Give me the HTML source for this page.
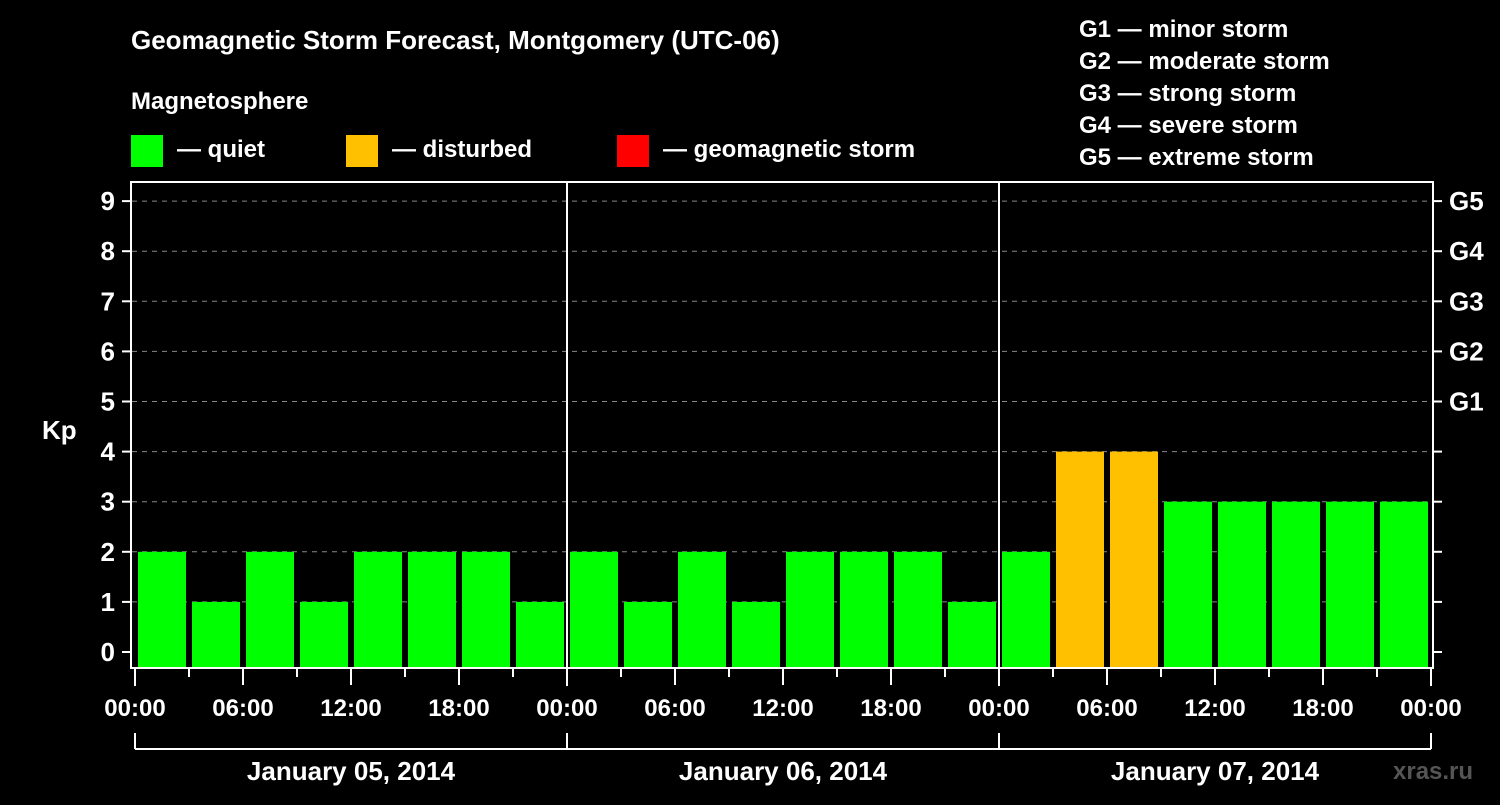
<!DOCTYPE html>
<html><head><meta charset="utf-8"><style>
body{margin:0;background:#000;width:1500px;height:800px;overflow:hidden}
svg text{font-family:"Liberation Sans",Arial,sans-serif;font-weight:bold;fill:#fff}
</style></head><body>
<svg id="c" width="1500" height="800" xmlns="http://www.w3.org/2000/svg">
<rect width="1500" height="800" fill="#000"/>
<text x="131" y="49" font-size="26">Geomagnetic Storm Forecast, Montgomery (UTC-06)</text>
<text x="131" y="109" font-size="24">Magnetosphere</text>
<g><rect x="131" y="135" width="32" height="32" fill="#00ff00"/><text x="177" y="157" font-size="24">— quiet</text></g>
<g><rect x="346" y="135" width="32" height="32" fill="#ffc000"/><text x="392" y="157" font-size="24">— disturbed</text></g>
<g><rect x="617" y="135" width="32" height="32" fill="#ff0000"/><text x="663" y="157" font-size="24">— geomagnetic storm</text></g>
<g font-size="24">
<text x="1079" y="37">G1 — minor storm</text>
<text x="1079" y="69">G2 — moderate storm</text>
<text x="1079" y="101">G3 — strong storm</text>
<text x="1079" y="133">G4 — severe storm</text>
<text x="1079" y="165">G5 — extreme storm</text>
</g>
<text x="42" y="439" font-size="26">Kp</text>
<text x="1393" y="779" font-size="24" fill="#555" style="fill:#555">xras.ru</text>
<g id="plot"></g>
</svg>
<script>
const kpValues=[2,1,2,1,2,2,2,1, 2,1,2,1,2,2,2,1, 2,4,4,3,3,3,3,3];
const dayLabels=["January 05, 2014","January 06, 2014","January 07, 2014"];
const hourLabels=["00:00","06:00","12:00","18:00"];
const gLabels=["G1","G2","G3","G4","G5"];
const NS="http://www.w3.org/2000/svg";
const p=document.getElementById('plot');
const x0=135,dayW=432,slot=54;
const y=v=>652-v*50.1;
const X=h=>x0+h*(dayW/24);
function el(t,a){const e=document.createElementNS(NS,t);for(const k in a)e.setAttribute(k,a[k]);p.appendChild(e);return e;}
for(let v=0;v<=9;v++){
 if(v>0&&v<=9){const l=el('line',{x1:132,x2:1432,y1:y(v),y2:y(v),stroke:'#888','stroke-dasharray':'5,5'});
 }
 const t=el('line',{x1:122,x2:131,y1:y(v),y2:y(v),stroke:'#fff','stroke-width':2});
 const t2=el('line',{x1:1433,x2:1442,y1:y(v),y2:y(v),stroke:'#fff','stroke-width':2});
 const tx=el('text',{x:115,y:y(v)+9,'font-size':26,'text-anchor':'end'});tx.textContent=v;
 
}
gLabels.forEach((g,i)=>{const t=el('text',{x:1449,y:y(5+i)+9,'font-size':26});t.textContent=g;
 });
kpValues.forEach((v,i)=>{
 const c=v>=5?'#ff0000':(v>=4?'#ffc000':'#00ff00');
 const r=el('rect',{x:X(i*3)+3,y:y(v),width:48,height:668-y(v),fill:c});
 
});
el('rect',{x:131,y:182,width:1302,height:486,fill:'none',stroke:'#fff','stroke-width':2});
for(let d=1;d<3;d++)el('line',{x1:X(d*24),x2:X(d*24),y1:182,y2:668,stroke:'#fff','stroke-width':2});
for(let h=0;h<=72;h+=3){
 const len=h%24==0?18:(h%6==0?17:9);
 el('line',{x1:X(h),x2:X(h),y1:668,y2:668+len,stroke:'#fff','stroke-width':2});
 if(h%6==0){const t=el('text',{x:X(h),y:716,'font-size':24,'text-anchor':'middle'});t.textContent=hourLabels[(h%24)/6];
 }
}
el('line',{x1:X(0),x2:X(72),y1:749,y2:749,stroke:'#fff','stroke-width':2});
for(let d=0;d<=3;d++)el('line',{x1:X(d*24),x2:X(d*24),y1:733,y2:749,stroke:'#fff','stroke-width':2});
dayLabels.forEach((s,d)=>{const t=el('text',{x:X(d*24+12),y:780,'font-size':26,'text-anchor':'middle'});t.textContent=s;
 });
</script>
</body></html>
